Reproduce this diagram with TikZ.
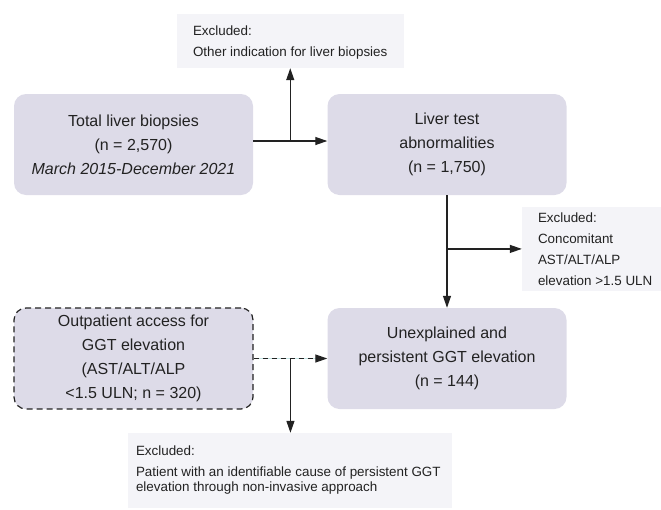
\documentclass[tikz,border=0pt]{standalone}
\usepackage{fontspec}
\setmainfont{Liberation Sans}
\usetikzlibrary{arrows.meta,calc}
\definecolor{boxfill}{RGB}{221,219,232}
\definecolor{exfill}{RGB}{244,244,248}
\definecolor{ink}{RGB}{34,34,34}
\definecolor{dashgap}{RGB}{196,230,230}
\begin{document}
\begin{tikzpicture}[x=1pt,y=-1pt,
  mainbox/.style={fill=boxfill, rounded corners=12pt, minimum width=239pt,
    minimum height=101pt, align=center, text=ink, inner sep=0pt,
    font=\fontsize{16}{24}\selectfont},
  dashbox/.style={mainbox, draw=ink, line width=1.2pt, dash pattern=on 6pt off 4pt},
  exbox/.style={fill=exfill, inner sep=0pt},
  extext/.style={anchor=west, align=left, text=ink, inner sep=0pt,
    font=\fontsize{13.4}{21}\selectfont},
  conn/.style={draw=ink, line width=1.2pt},
  arr/.style={conn, -{Triangle[length=12pt,width=8pt]}},
]
\useasboundingbox (0,0) rectangle (661,509);

% main boxes
\node[mainbox] (total) at (133.5,144.5)
  {Total liver biopsies\\(n = 2,570)\\\itshape March 2015-December 2021};
\node[mainbox] (liver) at (447,144.5)
  {Liver test\\abnormalities\\(n = 1,750)};
\node[mainbox] (unexpl) at (447,358.5)
  {Unexplained and\\persistent GGT elevation\\(n = 144)};
\node[dashbox] (outpt) at (133.5,358.5)
  {Outpatient access for\\GGT elevation\\(AST/ALT/ALP\\<1.5 ULN; n = 320)};

% exclusion boxes
\node[exbox, minimum width=227pt, minimum height=54pt] (exTop) at (290.5,41) {};
\node[extext] (exTopText) at ([xshift=16pt,yshift=-1.5pt]exTop.west)
  {Excluded:\\Other indication for liver biopsies};

\node[exbox, minimum width=139pt, minimum height=84pt] (exRight) at (591.5,249) {};
\node[extext] (exRightText) at ([xshift=16pt]exRight.west)
  {Excluded:\\Concomitant\\AST/ALT/ALP\\elevation >1.5 ULN};

\node[exbox, minimum width=324pt, minimum height=75pt] (exBot) at (290,470.5) {};
\node[extext, font=\fontsize{13.4}{15}\selectfont] (exBotText) at ([xshift=8pt]exBot.west)
  {Excluded:\\[6pt]Patient with an identifiable cause of persistent GGT\\elevation through non-invasive approach};

% connectors
\coordinate (j1) at ($([yshift=3.5pt]total.east)!0.5!([yshift=3.5pt]liver.west)$);
\draw[arr] ([yshift=3.5pt]total.east) -- ([yshift=3.5pt]liver.west);
\draw[arr] (j1) -- (j1 |- exTop.south);

\coordinate (j2) at ($(liver.south)!0.477!(unexpl.north)$);
\draw[arr] (liver.south) -- (unexpl.north);
\draw[arr] (j2) -- (j2 -| exRight.west);

\coordinate (j3) at ($(outpt.east)!0.5!(unexpl.west)$);
\draw[draw=dashgap, line width=1.2pt] (outpt.east) -- ([xshift=-10pt]unexpl.west);
\draw[arr, dash pattern=on 5pt off 4pt] (outpt.east) -- (unexpl.west);
\draw[arr] (j3) -- (j3 |- exBot.north);
\end{tikzpicture}
\end{document}
